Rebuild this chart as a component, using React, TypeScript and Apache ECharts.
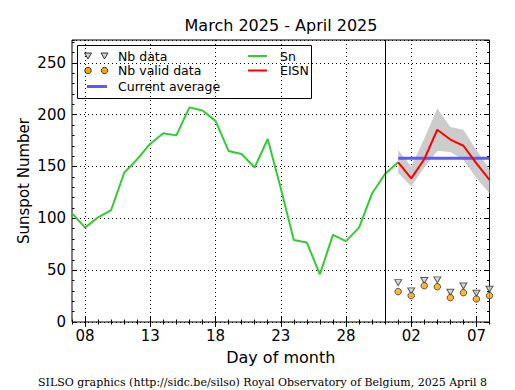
import React, { useEffect, useRef } from "react";
import * as echarts from "echarts";

// Day categories, March 7 to April 8 2025
const categories = [
  "03-07", "03-08", "03-09", "03-10", "03-11", "03-12", "03-13", "03-14", "03-15",
  "03-16", "03-17", "03-18", "03-19", "03-20", "03-21", "03-22", "03-23", "03-24",
  "03-25", "03-26", "03-27", "03-28", "03-29", "03-30", "03-31",
  "04-01", "04-02", "04-03", "04-04", "04-05", "04-06", "04-07", "04-08",
];

// Daily sunspot number Sn, March 7 to April 1
const snValues = [
  105, 91, 101, 108, 144, 157, 172, 182, 180, 207, 204, 194, 165, 162, 149, 176.5,
  129, 79, 76.6, 46, 84, 78, 91, 124, 143, 154,
];

// EISN estimate, April 1 to April 8
const eisnDays = ["04-01", "04-02", "04-03", "04-04", "04-05", "04-06", "04-07", "04-08"];
const eisnValues = [154, 138.5, 157, 185.5, 176, 170, 153, 137];
const eisnUpper = [166, 150, 177, 206, 188, 185.5, 166, 147];
const eisnLower = [143.7, 131, 149, 165, 164, 156.5, 139, 124];
const nbData = [38, 30, 40, 40.6, 28.7, 34.8, 27.7, 31.6];
const nbValidData = [29.3, 25.4, 35, 34, 23.5, 28.3, 22.2, 25.4];
const currentAverage = 158;
const separatorDay = "03-31";

const yTicks = [0, 50, 100, 150, 200, 250];

const SANS = "DejaVu Sans";

export default function App() {
  const ref = useRef<HTMLDivElement>(null);

  useEffect(() => {
    if (!ref.current) return;
    const chart = echarts.init(ref.current, null, { renderer: "svg" });

    const isMajor = (i: number) => (i - 1) % 5 === 0;
    const dotted = { color: "#000", width: 1, type: [1, 3] as any };

    const xBase = {
      type: "category" as const,
      data: categories,
      boundaryGap: false,
      axisLine: { show: false },
      axisLabel: { show: false },
      splitLine: { show: false },
    };

    const yBase = {
      type: "value" as const,
      min: 0,
      max: 272,
      axisLine: { show: false },
      axisLabel: { show: false },
      splitLine: { show: false },
    };

    const option: any = {
      animation: false,
      grid: {
        left: 72,
        right: 25.5,
        top: 40,
        bottom: 68,
        show: true,
        borderColor: "#000",
        borderWidth: 1,
        backgroundColor: "transparent",
      },
      xAxis: [
        {
          ...xBase,
          position: "bottom",
          name: "Day of month",
          nameLocation: "middle",
          nameGap: 27,
          nameMoveOverlap: false,
          nameTextStyle: { fontFamily: SANS, fontSize: 16, color: "#000" },
          axisTick: { show: true, inside: true, length: 2.5, interval: 0, lineStyle: { color: "#000" } },
          axisLabel: {
            show: true,
            interval: (i: number) => isMajor(i),
            formatter: (v: string) => v.slice(3),
            fontFamily: SANS,
            fontSize: 15,
            color: "#000",
            margin: 6,
          },
          splitLine: { show: true, interval: (i: number) => isMajor(i), lineStyle: dotted },
        },
        {
          ...xBase,
          position: "bottom",
          axisTick: { show: true, inside: true, length: 5, interval: (i: number) => isMajor(i), lineStyle: { color: "#000" } },
        },
        {
          ...xBase,
          position: "top",
          axisTick: { show: true, inside: true, length: 2.5, interval: 0, lineStyle: { color: "#000" } },
        },
        {
          ...xBase,
          position: "top",
          axisTick: { show: true, inside: true, length: 5, interval: (i: number) => isMajor(i), lineStyle: { color: "#000" } },
        },
      ],
      yAxis: [
        {
          ...yBase,
          position: "left",
          interval: 50,
          name: "Sunspot Number",
          nameLocation: "middle",
          nameGap: 41,
          nameMoveOverlap: false,
          nameTextStyle: { fontFamily: SANS, fontSize: 15, color: "#000" },
          axisTick: { show: true, inside: true, length: 5, lineStyle: { color: "#000" } },
          axisLabel: {
            show: true,
            fontFamily: SANS,
            fontSize: 15,
            color: "#000",
            margin: 6,
            showMaxLabel: false,
            formatter: (v: number) => (yTicks.includes(v) ? String(v) : ""),
          },
          splitLine: { show: true, lineStyle: dotted },
        },
        {
          ...yBase,
          position: "left",
          interval: 10,
          axisTick: { show: true, inside: true, length: 2.5, lineStyle: { color: "#000" } },
        },
        {
          ...yBase,
          position: "right",
          interval: 50,
          axisTick: { show: true, inside: true, length: 5, lineStyle: { color: "#000" } },
        },
        {
          ...yBase,
          position: "right",
          interval: 10,
          axisTick: { show: true, inside: true, length: 2.5, lineStyle: { color: "#000" } },
        },
      ],
      series: [
        {
          name: "bandLower",
          type: "line",
          stack: "band",
          symbol: "none",
          lineStyle: { opacity: 0 },
          data: eisnDays.map((d, i) => [d, eisnLower[i]]),
          z: 1,
        },
        {
          name: "bandRange",
          type: "line",
          stack: "band",
          symbol: "none",
          lineStyle: { opacity: 0 },
          areaStyle: { color: "#cccccc", opacity: 1 },
          data: eisnDays.map((d, i) => [d, eisnUpper[i] - eisnLower[i]]),
          z: 1,
        },
        {
          name: "Current average",
          type: "line",
          symbol: "none",
          lineStyle: { color: "#5a5aff", width: 3 },
          data: [
            [eisnDays[0], currentAverage],
            [eisnDays[eisnDays.length - 1], currentAverage],
          ],
          z: 2,
        },
        {
          name: "Sn",
          type: "line",
          symbol: "none",
          lineStyle: { color: "#33cc33", width: 2 },
          data: snValues.map((v, i) => [categories[i], v]),
          z: 3,
          markLine: {
            silent: true,
            symbol: "none",
            label: { show: false },
            lineStyle: { color: "#000", width: 1, type: "solid" },
            data: [{ xAxis: separatorDay }],
          },
        },
        {
          name: "EISN",
          type: "line",
          symbol: "none",
          lineStyle: { color: "#ff0000", width: 2 },
          data: eisnDays.map((d, i) => [d, eisnValues[i]]),
          z: 4,
        },
        {
          name: "Nb data",
          type: "scatter",
          symbol: "triangle",
          symbolRotate: 180,
          symbolSize: [7, 6],
          itemStyle: { color: "#d0d0d0", borderColor: "#333", borderWidth: 1 },
          data: eisnDays.map((d, i) => [d, nbData[i]]),
          z: 5,
        },
        {
          name: "Nb valid data",
          type: "scatter",
          symbol: "circle",
          symbolSize: 6.5,
          itemStyle: { color: "#ffa500", borderColor: "#333", borderWidth: 1 },
          data: eisnDays.map((d, i) => [d, nbValidData[i]]),
          z: 5,
        },
      ],
      graphic: [
        {
          type: "text",
          x: 281,
          y: 25,
          style: {
            text: "March 2025 - April 2025",
            fontFamily: SANS,
            fontSize: 16,
            fill: "#000",
            align: "center",
            verticalAlign: "middle",
          },
        },
        {
          type: "text",
          x: 262.5,
          y: 382,
          style: {
            text: "SILSO graphics (http://sidc.be/silso) Royal Observatory of Belgium, 2025 April 8",
            fontFamily: "DejaVu Serif",
            fontSize: 11,
            fill: "#000",
            align: "center",
            verticalAlign: "middle",
          },
        },
        {
          type: "group",
          z: 100,
          children: [
            {
              type: "rect",
              shape: { x: 77.5, y: 45.5, width: 234, height: 53 },
              style: { fill: "#fff", stroke: "#000", lineWidth: 1 },
            },
            ...[88, 104.5].map((cx) => ({
              type: "polygon",
              shape: { points: [[cx - 3.5, 53], [cx + 3.5, 53], [cx, 59]] },
              style: { fill: "#d0d0d0", stroke: "#333", lineWidth: 1 },
            })),
            ...[88, 104.5].map((cx) => ({
              type: "circle",
              shape: { cx, cy: 70.5, r: 3.2 },
              style: { fill: "#ffa500", stroke: "#333", lineWidth: 1 },
            })),
            {
              type: "line",
              shape: { x1: 87, y1: 86.5, x2: 107, y2: 86.5 },
              style: { stroke: "#5a5aff", lineWidth: 3 },
            },
            {
              type: "line",
              shape: { x1: 248, y1: 56, x2: 267, y2: 56 },
              style: { stroke: "#33cc33", lineWidth: 2 },
            },
            {
              type: "line",
              shape: { x1: 248, y1: 70.5, x2: 267, y2: 70.5 },
              style: { stroke: "#ff0000", lineWidth: 2 },
            },
            ...[
              { t: "Nb data", x: 118, y: 56 },
              { t: "Nb valid data", x: 118, y: 70.5 },
              { t: "Current average", x: 118, y: 86.5 },
              { t: "Sn", x: 280, y: 56 },
              { t: "EISN", x: 280, y: 70.5 },
            ].map((e) => ({
              type: "text",
              x: e.x,
              y: e.y,
              style: {
                text: e.t,
                fontFamily: SANS,
                fontSize: 12.5,
                fill: "#000",
                align: "left",
                verticalAlign: "middle",
              },
            })),
          ],
        },
      ],
    };

    chart.setOption(option);
    return () => chart.dispose();
  }, []);

  return <div ref={ref} style={{ width: 515, height: 390, position: "absolute", left: 0, top: 0 }} />;
}
